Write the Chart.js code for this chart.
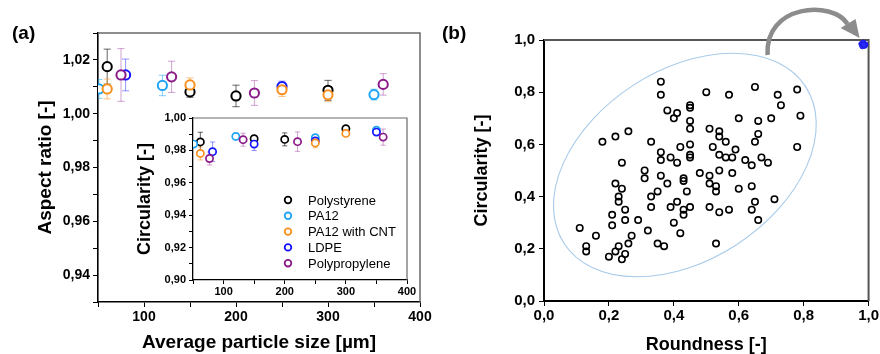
<!DOCTYPE html>
<html>
<head>
<meta charset="utf-8">
<script src="https://cdn.jsdelivr.net/npm/chart.js@4.4.1/dist/chart.umd.min.js"></script>
<style>
  body { margin: 0; background: #fff; font-family: "Liberation Sans", Arial, sans-serif; }
  #page { position: relative; width: 880px; height: 354px; overflow: hidden; }
  canvas { position: absolute; }
  .lab { position: absolute; font-weight: bold; font-size: 19px; line-height: 19px; color: #000; }
</style>
</head>
<body>
<div id="page">
  <canvas id="chartA" width="440" height="354" style="left:0;top:0"></canvas>
  <canvas id="chartInset" width="295" height="195" style="left:125px;top:105px"></canvas>
  <canvas id="chartB" width="440" height="354" style="left:440px;top:0"></canvas>
  <div class="lab" style="left:12px;top:23px">(a)</div>
  <div class="lab" style="left:442px;top:23px">(b)</div>
</div>
<script>
// ---- (a) aspect ratio vs average particle size
const psSize = [60, 150, 200, 300];
const psAR = [1.0175, 1.0081, 1.0066, 1.0087];
const psARerr = [0.0065, 0.0020, 0.0040, 0.0037];

const paSize = [51, 120, 350];
const paAR = [1.0092, 1.0105, 1.0071];
const paARerr = [0.0035, 0.0038, 0.0020];

const cntSize = [60, 150, 250, 300];
const cntAR = [1.0092, 1.0107, 1.0089, 1.0070];
const cntARerr = [0.0037, 0.0026, 0.0025, 0.0025];

const ldpeSize = [80, 250];
const ldpeAR = [1.0144, 1.0101];
const ldpeARerr = [0.0059, 0.0020];

const ppSize = [75, 130, 220, 360];
const ppAR = [1.0144, 1.0137, 1.0077, 1.0109];
const ppARerr = [0.0098, 0.0058, 0.0046, 0.0040];

// ---- inset: circularity vs average particle size
const psSizeC = [62, 150, 200, 300];
const psCirc = [0.9852, 0.9872, 0.9868, 0.9934];
const psCircErr = [0.0060, 0.0020, 0.0040, 0.0010];

const paSizeC = [51, 120, 250, 350];
const paCirc = [0.9839, 0.9886, 0.9878, 0.9925];
const paCircErr = [0.0020, 0.0020, 0.0020, 0.0010];

const cntSizeC = [62, 250, 300];
const cntCirc = [0.9781, 0.9846, 0.9905];
const cntCircErr = [0.0040, 0.0030, 0.0010];

const ldpeSizeC = [82, 150, 250, 350];
const ldpeCirc = [0.9792, 0.9839, 0.9858, 0.9913];
const ldpeCircErr = [0.0060, 0.0040, 0.0030, 0.0020];

const ppSizeC = [77, 132, 221, 361];
const ppCirc = [0.9750, 0.9866, 0.9854, 0.9882];
const ppCircErr = [0.0040, 0.0040, 0.0060, 0.0050];

const materials = ['Polystyrene', 'PA12', 'PA12 with CNT', 'LDPE', 'Polypropylene'];
const colors = ['#000000', '#1fa5f5', '#f7901e', '#1515ff', '#8a1a8a'];
const barColors = ['rgba(0,0,0,0.6)', 'rgba(31,165,245,0.55)', 'rgba(247,144,30,0.55)', 'rgba(21,21,255,0.45)', 'rgba(138,26,138,0.4)'];

// ---- (b) circularity vs roundness
const roundness = [0.36, 0.36, 0.50, 0.57, 0.65, 0.72, 0.78, 0.73, 0.79, 0.60, 0.66, 0.70, 0.78,
  0.38, 0.41, 0.40, 0.45, 0.45, 0.45, 0.45, 0.51, 0.54, 0.54, 0.56, 0.66, 0.65,
  0.26, 0.22, 0.18, 0.33, 0.45, 0.42, 0.52, 0.59, 0.36, 0.36, 0.39, 0.41, 0.45, 0.45,
  0.54, 0.56, 0.58, 0.62, 0.64, 0.67, 0.69, 0.24, 0.31, 0.31, 0.36, 0.38, 0.43, 0.43,
  0.48, 0.51, 0.51, 0.53, 0.53, 0.54, 0.58, 0.60, 0.64, 0.65, 0.64, 0.66, 0.71, 0.57,
  0.54, 0.51, 0.53, 0.22, 0.24, 0.23, 0.23, 0.25, 0.21, 0.21, 0.25, 0.29, 0.32, 0.33,
  0.35, 0.33, 0.39, 0.41, 0.44, 0.45, 0.43, 0.43, 0.40, 0.42, 0.35, 0.37,
  0.11, 0.16, 0.13, 0.13, 0.20, 0.22, 0.23, 0.25, 0.24, 0.26, 0.27];
const circularity = [0.84, 0.79, 0.80, 0.79, 0.82, 0.79, 0.81, 0.75, 0.71, 0.70, 0.69, 0.70, 0.59,
  0.73, 0.72, 0.70, 0.75, 0.74, 0.69, 0.66, 0.66, 0.65, 0.63, 0.61, 0.64, 0.61,
  0.65, 0.63, 0.61, 0.61, 0.60, 0.59, 0.59, 0.58, 0.57, 0.54, 0.55, 0.53, 0.56, 0.55,
  0.56, 0.55, 0.55, 0.54, 0.52, 0.55, 0.53, 0.53, 0.50, 0.47, 0.48, 0.45, 0.47, 0.46,
  0.49, 0.48, 0.45, 0.44, 0.42, 0.50, 0.49, 0.43, 0.44, 0.38, 0.35, 0.31, 0.39, 0.35,
  0.34, 0.36, 0.22, 0.45, 0.43, 0.40, 0.38, 0.35, 0.33, 0.29, 0.31, 0.31, 0.27, 0.40,
  0.42, 0.36, 0.36, 0.38, 0.42, 0.36, 0.35, 0.33, 0.30, 0.26, 0.22, 0.21,
  0.28, 0.25, 0.21, 0.19, 0.17, 0.19, 0.21, 0.18, 0.16, 0.22, 0.25];
// spheres after treatment (blue cluster, top right)
const roundnessSph = [0.978, 0.984, 0.990, 0.981, 0.988, 0.985];
const circularitySph = [0.985, 0.990, 0.983, 0.976, 0.978, 0.982];

Chart.defaults.font.family = '"Liberation Sans", Arial, sans-serif';
Chart.defaults.color = '#000';
Chart.defaults.animation = false;

const pts = (xs, ys) => xs.map((x, i) => ({x: x, y: ys[i]}));
const comma = (v, d) => v.toFixed(d).replace('.', ',');

// vertical error bars with caps, drawn under the markers
const errorBars = {
  id: 'errorBars',
  beforeDatasetsDraw(chart) {
    const {ctx, chartArea: ca, scales: {x, y}} = chart;
    ctx.save();
    ctx.beginPath();
    ctx.rect(ca.left, ca.top, ca.width, ca.height);
    ctx.clip();
    chart.data.datasets.forEach(ds => {
      if (!ds.errors) return;
      ctx.strokeStyle = ds.errorColor;
      ctx.lineWidth = 1;
      ds.data.forEach((p, i) => {
        const px = x.getPixelForValue(p.x);
        const y1 = y.getPixelForValue(p.y - ds.errors[i]);
        const y2 = y.getPixelForValue(p.y + ds.errors[i]);
        const c = ds.capWidth;
        ctx.beginPath();
        ctx.moveTo(px, y1); ctx.lineTo(px, y2);
        ctx.moveTo(px - c, y1); ctx.lineTo(px + c, y1);
        ctx.moveTo(px - c, y2); ctx.lineTo(px + c, y2);
        ctx.stroke();
      });
    });
    ctx.restore();
  }
};

// grey top and right frame lines
const frame = {
  id: 'frame',
  beforeDatasetsDraw(chart, args, opts) {
    const {ctx, chartArea: ca} = chart;
    ctx.save();
    ctx.strokeStyle = opts.color;
    ctx.lineWidth = opts.width;
    ctx.beginPath();
    ctx.moveTo(ca.left, ca.top);
    ctx.lineTo(ca.right, ca.top);
    ctx.lineTo(ca.right, ca.bottom);
    ctx.stroke();
    ctx.restore();
  }
};

// legend inside the inset
const insetLegend = {
  id: 'insetLegend',
  afterDraw(chart, args, opts) {
    const {ctx, chartArea: ca} = chart;
    ctx.save();
    ctx.font = '13px "Liberation Sans", Arial, sans-serif';
    ctx.textBaseline = 'middle';
    chart.data.datasets.forEach((ds, i) => {
      const yy = ca.top + opts.top + i * opts.step;
      const xx = ca.left + opts.left;
      ctx.beginPath();
      ctx.arc(xx, yy, 3.3, 0, Math.PI * 2);
      ctx.lineWidth = 1.8;
      ctx.strokeStyle = ds.borderColor;
      ctx.stroke();
      ctx.fillStyle = '#000';
      ctx.fillText(ds.label, xx + 20, yy + 1);
    });
    ctx.restore();
  }
};

// ellipse around the irregular particles and the arrow towards the spheres
const annot = {
  id: 'annot',
  beforeDatasetsDraw(chart, args, o) {
    const {ctx, scales: {x, y}} = chart;
    ctx.save();
    ctx.strokeStyle = '#a8cbea';
    ctx.lineWidth = 1.1;
    ctx.beginPath();
    ctx.ellipse(x.getPixelForValue(o.cx), y.getPixelForValue(o.cy), o.rx, o.ry, o.angle * Math.PI / 180, 0, Math.PI * 2);
    ctx.stroke();
    ctx.restore();
  },
  afterDraw(chart) {
    const {ctx, chartArea: ca} = chart;
    const R = ca.right, T = ca.top;
    ctx.save();
    ctx.strokeStyle = '#8c8c8c';
    ctx.fillStyle = '#8c8c8c';
    ctx.lineWidth = 4.5;
    ctx.beginPath();
    ctx.moveTo(R - 101, T + 15);
    ctx.bezierCurveTo(R - 104, T - 36, R - 36, T - 40, R - 21, T - 16);
    ctx.stroke();
    ctx.beginPath();
    ctx.moveTo(R - 9, T - 2);
    ctx.lineTo(R - 13, T - 21);
    ctx.lineTo(R - 28, T - 12);
    ctx.closePath();
    ctx.fill();
    ctx.restore();
  }
};

function markerSets(groups, radius, bw) {
  return groups.map((g, i) => ({
    label: materials[i],
    data: pts(g[0], g[1]),
    errors: g[2],
    errorColor: barColors[i],
    capWidth: radius - 1,
    borderColor: colors[i],
    backgroundColor: '#fff',
    pointRadius: radius,
    pointBorderWidth: bw,
    pointHoverRadius: radius,
    showLine: false,
    clip: 0,
    order: [5, 4, 2, 3, 1][i]
  }));
}

function axisX(opts) {
  return {
    type: 'linear', min: 50, max: 400,
    ticks: {stepSize: 50, autoSkip: false, maxRotation: 0, padding: opts.tickPad,
      font: {size: opts.tickSize, weight: 'bold'},
      callback: v => (v % 100 === 0 ? String(v) : '')},
    grid: {drawOnChartArea: false, tickLength: opts.tickLen, color: '#000', tickWidth: 1},
    border: {color: '#000', width: opts.bw},
    title: opts.title ? {display: true, text: opts.title, font: {size: 19, weight: 'bold', lineHeight: 1}, padding: {top: 0, bottom: 1.5}} : {display: false},
    afterFit: s => { s.height = opts.height; }
  };
}

function axisY(opts) {
  return {
    type: 'linear', min: opts.min, max: opts.max,
    ticks: {stepSize: 0.01, autoSkip: false, padding: opts.tickPad,
      font: {size: opts.tickSize, weight: 'bold'},
      callback: v => (Math.round(v * 100) % 2 === 0 ? comma(v, 2) : '')},
    grid: {drawOnChartArea: false, tickLength: opts.tickLen, color: '#000', tickWidth: 1},
    border: {color: '#000', width: opts.bw},
    title: {display: true, text: opts.title, font: {size: opts.titleSize, weight: 'bold'}, padding: {top: opts.titlePad, bottom: 0}},
    afterFit: s => { s.width = opts.width; }
  };
}

new Chart(document.getElementById('chartA'), {
  type: 'scatter',
  data: {
    datasets: markerSets([
      [psSize, psAR, psARerr],
      [paSize, paAR, paARerr],
      [cntSize, cntAR, cntARerr],
      [ldpeSize, ldpeAR, ldpeARerr],
      [ppSize, ppAR, ppARerr]
    ], 4.6, 2)
  },
  options: {
    responsive: false,
    layout: {padding: {left: 0, top: 33, right: 20, bottom: 0}},
    plugins: {legend: {display: false}, tooltip: {enabled: false}, frame: {color: '#6a6a6a', width: 1.5}},
    scales: {
      x: axisX({tickPad: 2, tickSize: 14, tickLen: 5, bw: 1.6, height: 52, title: 'Average particle size [µm]'}),
      y: axisY({min: 0.93, max: 1.03, tickPad: 3, tickSize: 14, tickLen: 5, bw: 1.6, width: 98,
        title: 'Aspect ratio [-]', titleSize: 19, titlePad: 34})
    }
  },
  plugins: [errorBars, frame]
});

new Chart(document.getElementById('chartInset'), {
  type: 'scatter',
  data: {
    datasets: markerSets([
      [psSizeC, psCirc, psCircErr],
      [paSizeC, paCirc, paCircErr],
      [cntSizeC, cntCirc, cntCircErr],
      [ldpeSizeC, ldpeCirc, ldpeCircErr],
      [ppSizeC, ppCirc, ppCircErr]
    ], 3.6, 1.7)
  },
  options: {
    responsive: false,
    layout: {padding: {left: 0, top: 13, right: 13, bottom: 0}},
    plugins: {legend: {display: false}, tooltip: {enabled: false}, frame: {color: '#6a6a6a', width: 1.2},
      insetLegend: {left: 95, top: 82, step: 15.8}},
    scales: {
      x: axisX({tickPad: 1, tickSize: 11, tickLen: 4, bw: 1.3, height: 20}),
      y: axisY({min: 0.90, max: 1.00, tickPad: 3, tickSize: 11, tickLen: 4, bw: 1.3, width: 68,
        title: 'Circularity [-]', titleSize: 18, titlePad: 9})
    }
  },
  plugins: [errorBars, frame, insetLegend]
});

new Chart(document.getElementById('chartB'), {
  type: 'scatter',
  data: {
    datasets: [{
      label: 'irregular',
      data: pts(roundness, circularity),
      borderColor: '#000',
      backgroundColor: 'rgba(0,0,0,0)',
      pointRadius: 3.2,
      pointBorderWidth: 1.6,
      pointHoverRadius: 3.2
    }, {
      label: 'spheres',
      data: pts(roundnessSph, circularitySph),
      borderColor: '#1a1ae6',
      backgroundColor: '#2a2aff',
      pointRadius: 2.6,
      pointBorderWidth: 1,
      pointHoverRadius: 2.6,
      clip: false
    }]
  },
  options: {
    responsive: false,
    layout: {padding: {left: 0, top: 40, right: 11, bottom: 0}},
    plugins: {legend: {display: false}, tooltip: {enabled: false}, frame: {color: '#555', width: 2},
      annot: {cx: 0.434, cy: 0.521, rx: 144, ry: 95, angle: -33}},
    scales: {
      x: {
        type: 'linear', min: 0, max: 1,
        ticks: {stepSize: 0.2, padding: 1, maxRotation: 0, font: {size: 15, weight: 'bold'}, callback: v => comma(v, 1)},
        grid: {drawOnChartArea: false, tickLength: 5, color: '#000'},
        border: {color: '#000', width: 2},
        title: {display: true, text: 'Roundness [-]', font: {size: 18, weight: 'bold', lineHeight: 1}, padding: {top: 0, bottom: 0}},
        afterFit: s => { s.height = 53; }
      },
      y: {
        type: 'linear', min: 0, max: 1,
        ticks: {stepSize: 0.2, padding: 4, font: {size: 15, weight: 'bold'}, callback: v => comma(v, 1)},
        grid: {drawOnChartArea: false, tickLength: 5, color: '#000'},
        border: {color: '#000', width: 2},
        title: {display: true, text: 'Circularity [-]', font: {size: 18, weight: 'bold'}, padding: {top: 31, bottom: 0}},
        afterFit: s => { s.width = 104; }
      }
    }
  },
  plugins: [frame, annot]
});
</script>
</body>
</html>
